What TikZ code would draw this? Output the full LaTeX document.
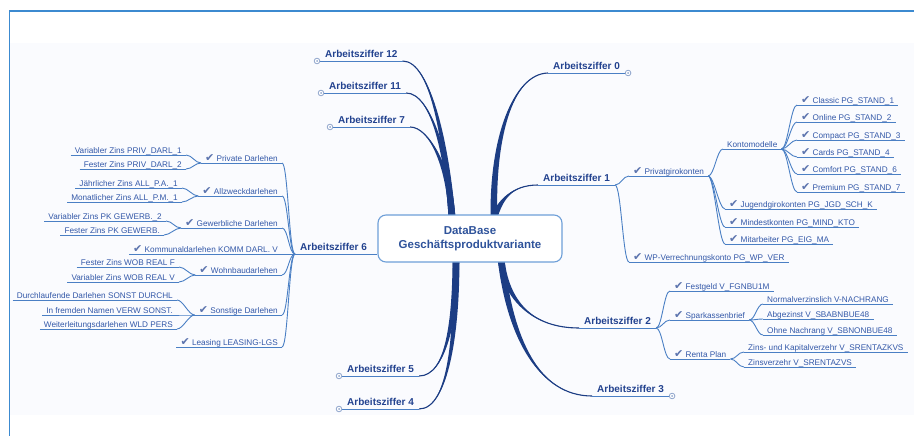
\documentclass[tikz,border=0pt]{standalone}
\usepackage{fontspec}
\setmainfont{Liberation Sans}
\newfontfamily\symfont{DejaVu Sans}
\usetikzlibrary{calc,positioning}
\definecolor{frameblue}{HTML}{3C8AD0}
\definecolor{bgfill}{HTML}{FAFBFE}
\definecolor{trunkc}{HTML}{1C3D84}
\definecolor{twigc}{HTML}{4A7FC4}
\definecolor{leaftext}{HTML}{3358A8}
\definecolor{aztext}{HTML}{22428F}
\definecolor{hubtext}{HTML}{2F539B}
\definecolor{hubline}{HTML}{6E9FD8}
\definecolor{chkc}{HTML}{5C74AE}
\definecolor{knobc}{HTML}{8FA5CC}
\newcommand\chk{{\symfont\fontsize{11}{11}\selectfont\textcolor{chkc}{✔}}}
% tapered main branch: thin end, two controls, thick end
\newcommand\trunk[4]{%
 \fill[trunkc] (#1) .. controls (#2) and ($(#3)+(-2.8,0)$) .. ($(#4)+(-3.4,0)$)
  -- ($(#4)+(3.4,0)$) .. controls ($(#3)+(2.8,0)$) and (#2) .. (#1) -- cycle;
 \draw[trunkc,line width=1.1pt] (#1) .. controls (#2) and (#3) .. (#4);}
\tikzset{
 hubbox/.style={draw=hubline,line width=1.1pt,rounded corners=8pt,fill=white,
  minimum width=184pt,minimum height=47pt,align=center,
  font=\bfseries\fontsize{11.5}{13.5}\selectfont,text=hubtext},
 azlabel/.style={font=\bfseries\fontsize{10}{12}\selectfont,text=aztext,
  inner xsep=5pt,inner ysep=3pt,text depth=0pt},
 leaf/.style={font=\fontsize{8.2}{10}\selectfont,text=leaftext,
  inner xsep=4pt,inner ysep=.6pt,text depth=1pt},
 twig/.style={draw=twigc,line width=.9pt},
 knob/.style={draw=knobc,line width=.8pt,fill=white},
}
\begin{document}
\begin{tikzpicture}[x=1pt,y=-1pt]
\useasboundingbox (0,0) rectangle (914,436);
\fill[bgfill] (10,43) rectangle (914,415);
\draw[frameblue,line width=1.6pt] (9.5,436) -- (9.5,11) -- (914,11);

% main labels
\foreach \n/\x/\y/\t in {a12/320/61/12,a11/324/93/11,a7/333/127/7,a0/548/73/0,
 a1/538/185/1,a2/579/328/2,a3/592/396/3,a5/342/376/5,a4/342/409/4,a6/295/254/6}
 \node[azlabel,anchor=south west] (\n) at (\x,\y) {Arbeitsziffer \t};

\coordinate (hubTL) at (452,218);
\coordinate (hubTR) at (494,218);
\coordinate (hubBL) at (456,259);
\coordinate (hubBR) at (501,259);

\trunk{a12.south east}{432,61}{447,150}{hubTL}
\trunk{a11.south east}{432,93}{448,160}{hubTL}
\trunk{a7.south east}{430,127}{450,170}{hubTL}
\trunk{a0.south west}{512,74}{492,140}{hubTR}
\trunk{a1.south west}{512,185}{500,200}{hubTR}
\trunk{a2.south west}{532,328}{506,300}{hubBR}
\trunk{a3.south west}{540,396}{510,340}{hubBR}
\trunk{a5.south east}{446,376}{455,320}{hubBL}
\trunk{a4.south east}{449,409}{457,330}{hubBL}

\node[hubbox] (hub) at (470,238.5) {DataBase\\Gesch\"aftsproduktvariante};

% right side
\foreach \n/\x/\y/\t in {pgk/629/176/Privatgirokonten,
 wp/629/262/WP-Verrechnungskonto PG\_WP\_VER,
 cl/797/105/Classic PG\_STAND\_1,onl/797/122/Online PG\_STAND\_2,
 cp/797/140/Compact PG\_STAND\_3,cd/797/157/Cards PG\_STAND\_4,
 cf/797/174/Comfort PG\_STAND\_6,pr/797/192/Premium PG\_STAND\_7,
 jg/725/209/Jugendgirokonten PG\_JGD\_SCH\_K,md/725/227/Mindestkonten PG\_MIND\_KTO,
 mt/725/244/Mitarbeiter PG\_EIG\_MA,
 fg/670/291/Festgeld V\_FGNBU1M,sb/670/320/Sparkassenbrief,rp/670/359/Renta Plan}
 \node[leaf,anchor=south west] (\n) at (\x,\y) {\chk\ \t};
\foreach \n/\x/\y/\t in {km/723/149/Kontomodelle,
 nv/763/304/Normalverzinslich V-NACHRANG,ab/763/319/Abgezinst V\_SBABNBUE48,
 ohn/763/335/Ohne Nachrang V\_SBNONBUE48,
 zk/744/352/Zins- und Kapitalverzehr V\_SRENTAZKVS,zv/744/367/Zinsverzehr V\_SRENTAZVS}
 \node[leaf,anchor=south west] (\n) at (\x,\y) {\t};

% left side
\foreach \n/\y/\t in {pd/163/Private Darlehen,az/196/Allzweckdarlehen,
 gd/228/Gewerbliche Darlehen,kd/254/Kommunaldarlehen KOMM DARL. V,
 wb/275/Wohnbaudarlehen,sd/315/Sonstige Darlehen,ls/347/Leasing LEASING-LGS}
 \node[leaf,anchor=south east] (\n) at (282,\y) {\chk\ \t};
\foreach \n/\x/\y/\t in {pd1/186/155/Variabler Zins PRIV\_DARL\_1,
 pd2/186/169/Fester Zins PRIV\_DARL\_2,
 az1/182/188/J\"ahrlicher Zins ALL\_P.A.\_1,az2/182/202/Monatlicher Zins ALL\_P.M.\_1,
 gd1/166/221/Variabler Zins PK GEWERB.\_2,gd2/164/235/Fester Zins PK GEWERB.,
 wb1/179/267/Fester Zins WOB REAL F,wb2/179/282/Variabler Zins WOB REAL V,
 sd1/177/300/Durchlaufende Darlehen SONST DURCHL,
 sd2/177/315/In fremden Namen VERW SONST.,sd3/177/329/Weiterleitungsdarlehen WLD PERS}
 \node[leaf,anchor=south east] (\n) at (\x,\y) {\t};

% underlines
\foreach \n in {a12,a11,a7,a0,a1,a2,a3,a5,a4,a6,pgk,wp,cl,onl,cp,cd,cf,pr,jg,md,mt,
 fg,sb,rp,km,nv,ab,ohn,zk,zv,pd,az,gd,kd,wb,sd,ls,pd1,pd2,az1,az2,gd1,gd2,
 wb1,wb2,sd1,sd2,sd3}
 \draw[twig] (\n.south west) -- (\n.south east);
\draw[twig] (a6.south west) -- (a6.south west -| hub.west);

% forks
\foreach \p/\c in {a1/pgk,a1/wp,pgk/km,pgk/jg,pgk/md,pgk/mt,km/cl,km/onl,km/cp,
 km/cd,km/cf,km/pr,a2/fg,a2/sb,a2/rp,sb/nv,sb/ab,sb/ohn,rp/zk,rp/zv}
 \draw[twig] (\p.south east) .. controls +(6,0) and +(-6,0) .. (\c.south west);
\foreach \p/\c in {a6/pd,a6/az,a6/gd,a6/kd,a6/wb,a6/sd,a6/ls,pd/pd1,pd/pd2,
 az/az1,az/az2,gd/gd1,gd/gd2,wb/wb1,wb/wb2,sd/sd1,sd/sd2,sd/sd3}
 \draw[twig] (\p.south west) .. controls +(-6,0) and +(6,0) .. (\c.south east);

% collapse knobs
\foreach \n in {a12,a11,a7,a5,a4}{
 \draw[knob] ($(\n.south west)+(-3,0)$) circle (2.8pt);
 \fill[knobc] ($(\n.south west)+(-3,0)$) circle (1pt);
}
\foreach \n in {a0,a3}{
 \draw[knob] ($(\n.south east)+(3,0)$) circle (2.8pt);
 \fill[knobc] ($(\n.south east)+(3,0)$) circle (1pt);
}
\end{tikzpicture}
\end{document}
